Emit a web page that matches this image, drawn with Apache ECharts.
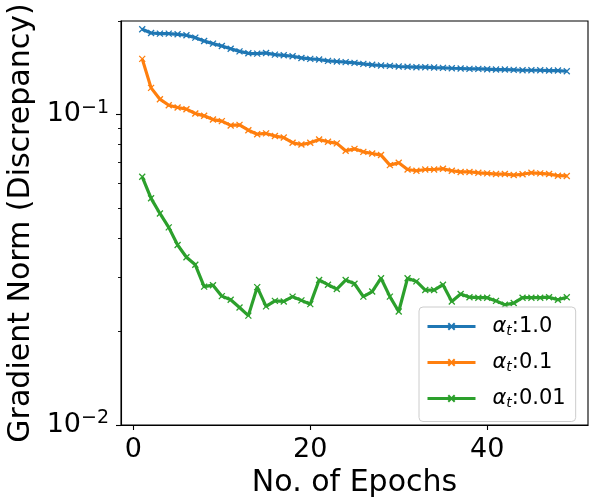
<!DOCTYPE html>
<html>
<head>
<meta charset="utf-8">
<title>Gradient Norm</title>
<script src="https://cdn.jsdelivr.net/npm/echarts@6/dist/echarts.min.js"></script>
<style>
  html, body { margin: 0; padding: 0; background: #fff; }
  #chart { width: 600px; height: 500px; }
</style>
</head>
<body>
<div id="chart"></div>
<script>
var epochs = [1, 2, 3, 4, 5, 6, 7, 8, 9, 10, 11, 12, 13, 14, 15, 16, 17, 18, 19, 20,
    21, 22, 23, 24, 25, 26, 27, 28, 29, 30, 31, 32, 33, 34, 35, 36, 37, 38, 39, 40,
    41, 42, 43, 44, 45, 46, 47, 48, 49];

var alpha_1 = [0.1881, 0.1830, 0.1821, 0.1821, 0.1812, 0.1799, 0.1768, 0.1725, 0.1691, 0.1662,
    0.1629, 0.1597, 0.1574, 0.1570, 0.1578, 0.1559, 0.1551, 0.1540, 0.1521, 0.1510,
    0.1503, 0.1488, 0.1481, 0.1474, 0.1466, 0.1455, 0.1445, 0.1438, 0.1434, 0.1427,
    0.1424, 0.1420, 0.1420, 0.1416, 0.1413, 0.1409, 0.1406, 0.1402, 0.1402, 0.1399,
    0.1395, 0.1395, 0.1392, 0.1388, 0.1388, 0.1388, 0.1385, 0.1385, 0.1378];

var alpha_01 = [0.1510, 0.1218, 0.1120, 0.1071, 0.1053, 0.1040, 0.1007, 0.0990, 0.0963, 0.0952,
    0.0922, 0.0926, 0.0890, 0.0864, 0.0869, 0.0852, 0.0843, 0.0811, 0.0800, 0.0811,
    0.0831, 0.0817, 0.0807, 0.0764, 0.0775, 0.0758, 0.0749, 0.0740, 0.0687, 0.0699,
    0.0665, 0.0659, 0.0665, 0.0665, 0.0669, 0.0659, 0.0653, 0.0653, 0.0649, 0.0646,
    0.0643, 0.0643, 0.0638, 0.0642, 0.0649, 0.0646, 0.0643, 0.0635, 0.0634];

var alpha_001 = [0.0630, 0.0537, 0.0480, 0.0433, 0.0380, 0.0347, 0.0328, 0.0279, 0.0282, 0.0260,
    0.0253, 0.0239, 0.0225, 0.0278, 0.0241, 0.0251, 0.0250, 0.0259, 0.0252, 0.0245,
    0.0293, 0.0283, 0.0274, 0.0293, 0.0285, 0.0259, 0.0269, 0.0297, 0.0259, 0.0232,
    0.0297, 0.0290, 0.0272, 0.0272, 0.0283, 0.0250, 0.0264, 0.0258, 0.0257, 0.0257,
    0.0251, 0.0244, 0.0247, 0.0257, 0.0257, 0.0257, 0.0258, 0.0253, 0.0258];

var series_names = ['αt:1.0', 'αt:0.1', 'αt:0.01'];
var x_ticks = [0, 20, 40];
var y_major = [0.01, 0.1];
var y_minor = [0.02, 0.03, 0.04, 0.05, 0.06, 0.07, 0.08, 0.09, 0.2];

var colors = ['#1f77b4', '#ff7f0e', '#2ca02c'];
var font = 'DejaVu Sans';
var cross = 'path://M0,0L10,10M10,0L0,10';

function pairs(ys) {
    var out = [];
    for (var i = 0; i < ys.length; i++) {
        out.push([epochs[i], ys[i]]);
    }
    return out;
}

function make_series(name, ys, color) {
    return {
        name: name,
        type: 'line',
        data: pairs(ys),
        color: color,
        symbol: cross,
        symbolSize: 6,
        showAllSymbol: true,
        lineStyle: { width: 3.2, color: color },
        itemStyle: { color: color, borderColor: color, borderWidth: 1.3 },
        emphasis: { disabled: true }
    };
}

var chart = echarts.init(document.getElementById('chart'));
var option = {
    animation: false,
    textStyle: { fontFamily: font },
    grid: {
        left: 121, right: 12, top: 21, bottom: 75,
        outerBoundsMode: 'none',
        containLabel: false,
        show: true, borderColor: '#000', borderWidth: 1.1,
        backgroundColor: 'transparent'
    },
    legend: {
        orient: 'vertical',
        left: 419, top: 307,
        padding: [9, 10, 11, 7],
        itemWidth: 48, itemHeight: 8, itemGap: 13.5,
        lineStyle: { width: 3 },
        backgroundColor: 'rgba(255,255,255,0.8)',
        borderColor: '#cccccc', borderWidth: 1, borderRadius: 4,
        data: series_names,
        formatter: function (name) {
            return '{a|α}{t|t}{n|:' + name.split(':')[1] + '}';
        },
        textStyle: {
            fontFamily: font, fontSize: 21, color: '#000',
            padding: [0, 0, 0, 12],
            rich: {
                a: { fontFamily: font, fontSize: 21, fontStyle: 'italic', lineHeight: 24 },
                t: { fontFamily: font, fontSize: 14, fontStyle: 'italic', lineHeight: 14, verticalAlign: 'bottom' },
                n: { fontFamily: font, fontSize: 21, lineHeight: 24 }
            }
        }
    },
    xAxis: {
        type: 'value',
        min: -1.4, max: 51.4,
        name: 'No. of Epochs',
        nameLocation: 'middle',
        nameGap: 54,
        nameTextStyle: { fontFamily: font, fontSize: 30, color: '#000', verticalAlign: 'middle' },
        splitLine: { show: false },
        axisLine: { show: true, onZero: false, lineStyle: { color: '#000', width: 1.1 } },
        axisTick: { show: true, length: 5, customValues: x_ticks, lineStyle: { color: '#000', width: 1.1 } },
        axisLabel: { customValues: x_ticks, margin: 11, fontFamily: font, fontSize: 27, color: '#000' }
    },
    yAxis: [{
        type: 'log',
        logBase: 10,
        min: 0.01, max: 0.2,
        name: 'Gradient Norm (Discrepancy)',
        nameLocation: 'middle',
        nameRotate: 90,
        nameGap: 98,
        nameTextStyle: { fontFamily: font, fontSize: 30, color: '#000', verticalAlign: 'middle' },
        splitLine: { show: false },
        axisLine: { show: true, onZero: false, lineStyle: { color: '#000', width: 1.1 } },
        axisTick: { show: true, length: 5, customValues: y_major, lineStyle: { color: '#000', width: 1.1 } },
        axisLabel: {
            customValues: y_major,
            margin: 12,
            formatter: function (v) {
                var e = Math.round(Math.log(v) / Math.LN10);
                return '{b|10}{s|\u2212' + (-e) + '}';
            },
            rich: {
                b: { fontFamily: font, fontSize: 27, lineHeight: 32, color: '#000' },
                s: { fontFamily: font, fontSize: 19, lineHeight: 26, verticalAlign: 'top', color: '#000' }
            }
        }
    }, {
        type: 'log',
        logBase: 10,
        min: 0.01, max: 0.2,
        position: 'left',
        splitLine: { show: false },
        axisLine: { show: false, onZero: false },
        axisTick: { show: true, length: 3, customValues: y_minor, lineStyle: { color: '#000', width: 0.9 } },
        axisLabel: { show: false }
    }],
    series: [
        make_series(series_names[0], alpha_1, colors[0]),
        make_series(series_names[1], alpha_01, colors[1]),
        make_series(series_names[2], alpha_001, colors[2])
    ]
};
chart.setOption(option);
</script>
</body>
</html>
